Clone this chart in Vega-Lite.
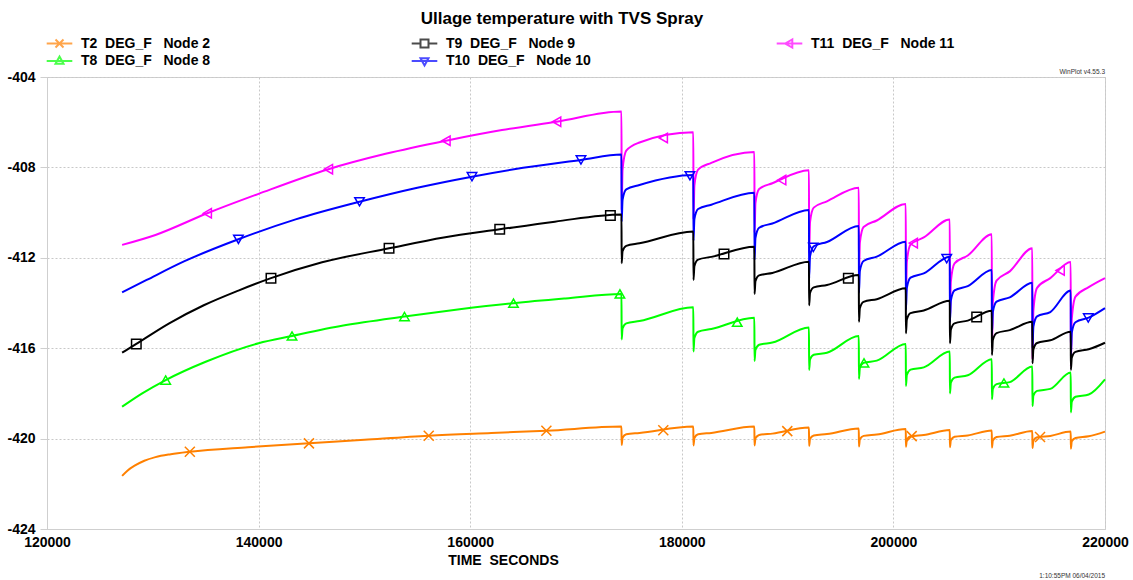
{
  "$schema": "https://vega.github.io/schema/vega-lite/v6.json",
  "width": 1058,
  "height": 452,
  "autosize": {"type": "none"},
  "padding": {"left": 47, "top": 77, "right": 28, "bottom": 51},
  "background": "white",
  "title": {"text": "Ullage temperature with TVS Spray", "font": "Liberation Sans", "fontSize": 17, "fontWeight": "bold", "color": "#000000", "anchor": "middle", "frame": "group", "dx": -14, "offset": 6},
  "datasets": {
    "lines": [
      {"s":"T11","t":127100,"v":-411.43},{"s":"T11","t":130250,"v":-410.99},{"s":"T11","t":135150,"v":-410.03},{"s":"T11","t":140000,"v":-409.17},{"s":"T11","t":146600,"v":-408.08},{"s":"T11","t":152000,"v":-407.4},{"s":"T11","t":157710,"v":-406.82},{"s":"T11","t":163000,"v":-406.35},{"s":"T11","t":168170,"v":-405.98},{"s":"T11","t":174300,"v":-405.53},
      {"s":"T11","t":174315,"v":-409.9},{"s":"T11","t":174400,"v":-408.1},{"s":"T11","t":174750,"v":-407.26},{"s":"T11","t":176000,"v":-406.9},
      {"s":"T11","t":181090,"v":-406.45},{"s":"T11","t":181105,"v":-410.3},{"s":"T11","t":181190,"v":-408.8},{"s":"T11","t":181540,"v":-408.1},{"s":"T11","t":182790,"v":-407.8},
      {"s":"T11","t":186860,"v":-407.32},{"s":"T11","t":186875,"v":-410.9},{"s":"T11","t":186960,"v":-409.58},{"s":"T11","t":187310,"v":-408.96},{"s":"T11","t":188560,"v":-408.7},
      {"s":"T11","t":192020,"v":-408.13},{"s":"T11","t":192035,"v":-411.8},{"s":"T11","t":192120,"v":-410.42},{"s":"T11","t":192470,"v":-409.78},{"s":"T11","t":193720,"v":-409.5},
      {"s":"T11","t":196730,"v":-408.9},{"s":"T11","t":196745,"v":-412.8},{"s":"T11","t":196830,"v":-411.33},{"s":"T11","t":197180,"v":-410.64},{"s":"T11","t":198430,"v":-410.35},
      {"s":"T11","t":201170,"v":-409.62},{"s":"T11","t":201185,"v":-413.8},{"s":"T11","t":201270,"v":-412.18},{"s":"T11","t":201620,"v":-411.42},{"s":"T11","t":202870,"v":-411.1},
      {"s":"T11","t":205330,"v":-410.3},{"s":"T11","t":205345,"v":-414.8},{"s":"T11","t":205430,"v":-413.06},{"s":"T11","t":205780,"v":-412.25},{"s":"T11","t":207030,"v":-411.9},
      {"s":"T11","t":209300,"v":-410.96},{"s":"T11","t":209315,"v":-416.0},{"s":"T11","t":209400,"v":-413.96},{"s":"T11","t":209750,"v":-413.01},{"s":"T11","t":211000,"v":-412.6},
      {"s":"T11","t":213130,"v":-411.58},{"s":"T11","t":213145,"v":-416.5},{"s":"T11","t":213230,"v":-414.34},{"s":"T11","t":213580,"v":-413.33},{"s":"T11","t":214830,"v":-412.9},
      {"s":"T11","t":216760,"v":-412.19},{"s":"T11","t":216775,"v":-416.8},{"s":"T11","t":216860,"v":-414.7},{"s":"T11","t":217210,"v":-413.72},{"s":"T11","t":218460,"v":-413.3},
      {"s":"T11","t":220000,"v":-412.9},

      {"s":"T10","t":127100,"v":-413.53},{"s":"T10","t":129420,"v":-412.98},{"s":"T10","t":133000,"v":-412.15},{"s":"T10","t":138090,"v":-411.18},{"s":"T10","t":143500,"v":-410.3},{"s":"T10","t":149540,"v":-409.52},{"s":"T10","t":155000,"v":-408.9},{"s":"T10","t":160170,"v":-408.41},{"s":"T10","t":165000,"v":-408.02},{"s":"T10","t":170470,"v":-407.67},{"s":"T10","t":174300,"v":-407.43},
      {"s":"T10","t":174315,"v":-410.4},{"s":"T10","t":174400,"v":-409.43},{"s":"T10","t":174750,"v":-408.97},{"s":"T10","t":176000,"v":-408.78},
      {"s":"T10","t":181090,"v":-408.34},{"s":"T10","t":181105,"v":-411.25},{"s":"T10","t":181190,"v":-410.29},{"s":"T10","t":181540,"v":-409.84},{"s":"T10","t":182790,"v":-409.65},
      {"s":"T10","t":186860,"v":-409.12},{"s":"T10","t":186875,"v":-412.1},{"s":"T10","t":186960,"v":-411.13},{"s":"T10","t":187310,"v":-410.67},{"s":"T10","t":188560,"v":-410.48},
      {"s":"T10","t":192020,"v":-409.88},{"s":"T10","t":192035,"v":-412.9},{"s":"T10","t":192120,"v":-411.94},{"s":"T10","t":192470,"v":-411.49},{"s":"T10","t":193720,"v":-411.3},
      {"s":"T10","t":196730,"v":-410.59},{"s":"T10","t":196745,"v":-413.55},{"s":"T10","t":196830,"v":-412.59},{"s":"T10","t":197180,"v":-412.14},{"s":"T10","t":198430,"v":-411.95},
      {"s":"T10","t":201170,"v":-411.29},{"s":"T10","t":201185,"v":-414.3},{"s":"T10","t":201270,"v":-413.33},{"s":"T10","t":201620,"v":-412.88},{"s":"T10","t":202870,"v":-412.69},
      {"s":"T10","t":205330,"v":-411.95},{"s":"T10","t":205345,"v":-414.85},{"s":"T10","t":205430,"v":-413.89},{"s":"T10","t":205780,"v":-413.44},{"s":"T10","t":207030,"v":-413.25},
      {"s":"T10","t":209300,"v":-412.54},{"s":"T10","t":209315,"v":-415.35},{"s":"T10","t":209400,"v":-414.39},{"s":"T10","t":209750,"v":-413.94},{"s":"T10","t":211000,"v":-413.75},
      {"s":"T10","t":213130,"v":-413.1},{"s":"T10","t":213145,"v":-416.0},{"s":"T10","t":213230,"v":-415.04},{"s":"T10","t":213580,"v":-414.59},{"s":"T10","t":214830,"v":-414.4},
      {"s":"T10","t":216760,"v":-413.45},{"s":"T10","t":216775,"v":-416.3},{"s":"T10","t":216860,"v":-415.31},{"s":"T10","t":217210,"v":-414.85},{"s":"T10","t":218460,"v":-414.65},
      {"s":"T10","t":220000,"v":-414.23},

      {"s":"T9","t":127100,"v":-416.2},{"s":"T9","t":128440,"v":-415.81},{"s":"T9","t":131550,"v":-414.9},{"s":"T9","t":134820,"v":-414.1},{"s":"T9","t":138090,"v":-413.45},{"s":"T9","t":141170,"v":-412.9},{"s":"T9","t":146000,"v":-412.2},{"s":"T9","t":152330,"v":-411.58},{"s":"T9","t":157500,"v":-411.1},{"s":"T9","t":162790,"v":-410.74},{"s":"T9","t":168000,"v":-410.4},{"s":"T9","t":174300,"v":-410.08},
      {"s":"T9","t":174315,"v":-412.24},{"s":"T9","t":174400,"v":-411.71},{"s":"T9","t":174750,"v":-411.47},{"s":"T9","t":176000,"v":-411.36},
      {"s":"T9","t":181090,"v":-410.84},{"s":"T9","t":181105,"v":-412.98},{"s":"T9","t":181190,"v":-412.37},{"s":"T9","t":181540,"v":-412.08},{"s":"T9","t":182790,"v":-411.96},
      {"s":"T9","t":186860,"v":-411.51},{"s":"T9","t":186875,"v":-413.6},{"s":"T9","t":186960,"v":-413.04},{"s":"T9","t":187310,"v":-412.78},{"s":"T9","t":188560,"v":-412.67},
      {"s":"T9","t":192020,"v":-412.17},{"s":"T9","t":192035,"v":-414.1},{"s":"T9","t":192120,"v":-413.56},{"s":"T9","t":192470,"v":-413.31},{"s":"T9","t":193720,"v":-413.2},
      {"s":"T9","t":196730,"v":-412.76},{"s":"T9","t":196745,"v":-414.83},{"s":"T9","t":196830,"v":-414.23},{"s":"T9","t":197180,"v":-413.95},{"s":"T9","t":198430,"v":-413.83},
      {"s":"T9","t":201170,"v":-413.35},{"s":"T9","t":201185,"v":-415.34},{"s":"T9","t":201270,"v":-414.73},{"s":"T9","t":201620,"v":-414.45},{"s":"T9","t":202870,"v":-414.33},
      {"s":"T9","t":205330,"v":-413.9},{"s":"T9","t":205345,"v":-415.78},{"s":"T9","t":205430,"v":-415.18},{"s":"T9","t":205780,"v":-414.9},{"s":"T9","t":207030,"v":-414.78},
      {"s":"T9","t":209300,"v":-414.34},{"s":"T9","t":209315,"v":-416.3},{"s":"T9","t":209400,"v":-415.64},{"s":"T9","t":209750,"v":-415.33},{"s":"T9","t":211000,"v":-415.2},
      {"s":"T9","t":213130,"v":-414.83},{"s":"T9","t":213145,"v":-416.67},{"s":"T9","t":213230,"v":-416.06},{"s":"T9","t":213580,"v":-415.77},{"s":"T9","t":214830,"v":-415.65},
      {"s":"T9","t":216760,"v":-415.27},{"s":"T9","t":216775,"v":-416.96},{"s":"T9","t":216860,"v":-416.42},{"s":"T9","t":217210,"v":-416.16},{"s":"T9","t":218460,"v":-416.05},
      {"s":"T9","t":220000,"v":-415.76},

      {"s":"T8","t":127100,"v":-418.59},{"s":"T8","t":129000,"v":-418.0},{"s":"T8","t":131220,"v":-417.41},{"s":"T8","t":135000,"v":-416.6},{"s":"T8","t":140000,"v":-415.78},{"s":"T8","t":143160,"v":-415.46},{"s":"T8","t":148000,"v":-415.0},{"s":"T8","t":153790,"v":-414.6},{"s":"T8","t":159000,"v":-414.28},{"s":"T8","t":164090,"v":-414.01},{"s":"T8","t":169000,"v":-413.8},{"s":"T8","t":174300,"v":-413.6},
      {"s":"T8","t":174315,"v":-415.61},{"s":"T8","t":174400,"v":-415.12},{"s":"T8","t":174750,"v":-414.9},{"s":"T8","t":176000,"v":-414.8},
      {"s":"T8","t":181090,"v":-414.19},{"s":"T8","t":181105,"v":-416.15},{"s":"T8","t":181190,"v":-415.55},{"s":"T8","t":181540,"v":-415.27},{"s":"T8","t":182790,"v":-415.15},
      {"s":"T8","t":186860,"v":-414.65},{"s":"T8","t":186875,"v":-416.57},{"s":"T8","t":186960,"v":-416.08},{"s":"T8","t":187310,"v":-415.85},{"s":"T8","t":188560,"v":-415.75},
      {"s":"T8","t":192020,"v":-415.08},{"s":"T8","t":192035,"v":-416.96},{"s":"T8","t":192120,"v":-416.5},{"s":"T8","t":192470,"v":-416.29},{"s":"T8","t":193720,"v":-416.2},
      {"s":"T8","t":196730,"v":-415.46},{"s":"T8","t":196745,"v":-417.36},{"s":"T8","t":196830,"v":-416.87},{"s":"T8","t":197180,"v":-416.65},{"s":"T8","t":198430,"v":-416.55},
      {"s":"T8","t":201170,"v":-415.81},{"s":"T8","t":201185,"v":-417.67},{"s":"T8","t":201270,"v":-417.18},{"s":"T8","t":201620,"v":-416.95},{"s":"T8","t":202870,"v":-416.85},
      {"s":"T8","t":205330,"v":-416.15},{"s":"T8","t":205345,"v":-418.0},{"s":"T8","t":205430,"v":-417.52},{"s":"T8","t":205780,"v":-417.3},{"s":"T8","t":207030,"v":-417.2},
      {"s":"T8","t":209300,"v":-416.49},{"s":"T8","t":209315,"v":-418.26},{"s":"T8","t":209400,"v":-417.8},{"s":"T8","t":209750,"v":-417.59},{"s":"T8","t":211000,"v":-417.5},
      {"s":"T8","t":213130,"v":-416.81},{"s":"T8","t":213145,"v":-418.56},{"s":"T8","t":213230,"v":-418.1},{"s":"T8","t":213580,"v":-417.89},{"s":"T8","t":214830,"v":-417.8},
      {"s":"T8","t":216760,"v":-417.08},{"s":"T8","t":216775,"v":-418.84},{"s":"T8","t":216860,"v":-418.37},{"s":"T8","t":217210,"v":-418.15},{"s":"T8","t":218460,"v":-418.05},
      {"s":"T8","t":220000,"v":-417.38},

      {"s":"T2","t":127100,"v":-421.65},{"s":"T2","t":127600,"v":-421.42},{"s":"T2","t":128280,"v":-421.2},{"s":"T2","t":129200,"v":-420.98},{"s":"T2","t":130250,"v":-420.82},{"s":"T2","t":131700,"v":-420.69},{"s":"T2","t":133500,"v":-420.58},{"s":"T2","t":139000,"v":-420.38},{"s":"T2","t":144760,"v":-420.21},{"s":"T2","t":150000,"v":-420.05},{"s":"T2","t":156080,"v":-419.87},{"s":"T2","t":162000,"v":-419.75},{"s":"T2","t":167200,"v":-419.65},{"s":"T2","t":174300,"v":-419.47},
      {"s":"T2","t":174315,"v":-420.28},{"s":"T2","t":174400,"v":-419.96},{"s":"T2","t":174750,"v":-419.81},{"s":"T2","t":176000,"v":-419.75},
      {"s":"T2","t":181090,"v":-419.47},{"s":"T2","t":181105,"v":-420.3},{"s":"T2","t":181190,"v":-419.97},{"s":"T2","t":181540,"v":-419.81},{"s":"T2","t":182790,"v":-419.75},
      {"s":"T2","t":186860,"v":-419.47},{"s":"T2","t":186875,"v":-420.3},{"s":"T2","t":186960,"v":-419.99},{"s":"T2","t":187310,"v":-419.84},{"s":"T2","t":188560,"v":-419.78},
      {"s":"T2","t":192020,"v":-419.51},{"s":"T2","t":192035,"v":-420.32},{"s":"T2","t":192120,"v":-420.01},{"s":"T2","t":192470,"v":-419.86},{"s":"T2","t":193720,"v":-419.8},
      {"s":"T2","t":196730,"v":-419.55},{"s":"T2","t":196745,"v":-420.35},{"s":"T2","t":196830,"v":-420.03},{"s":"T2","t":197180,"v":-419.88},{"s":"T2","t":198430,"v":-419.82},
      {"s":"T2","t":201170,"v":-419.58},{"s":"T2","t":201185,"v":-420.36},{"s":"T2","t":201270,"v":-420.05},{"s":"T2","t":201620,"v":-419.9},{"s":"T2","t":202870,"v":-419.84},
      {"s":"T2","t":205330,"v":-419.62},{"s":"T2","t":205345,"v":-420.38},{"s":"T2","t":205430,"v":-420.07},{"s":"T2","t":205780,"v":-419.92},{"s":"T2","t":207030,"v":-419.86},
      {"s":"T2","t":209300,"v":-419.64},{"s":"T2","t":209315,"v":-420.4},{"s":"T2","t":209400,"v":-420.08},{"s":"T2","t":209750,"v":-419.93},{"s":"T2","t":211000,"v":-419.87},
      {"s":"T2","t":213130,"v":-419.66},{"s":"T2","t":213145,"v":-420.42},{"s":"T2","t":213230,"v":-420.1},{"s":"T2","t":213580,"v":-419.94},{"s":"T2","t":214830,"v":-419.88},
      {"s":"T2","t":216760,"v":-419.69},{"s":"T2","t":216775,"v":-420.45},{"s":"T2","t":216860,"v":-420.12},{"s":"T2","t":217210,"v":-419.97},{"s":"T2","t":218460,"v":-419.9},
      {"s":"T2","t":220000,"v":-419.69}
    ],
    "marks": [
      {"s":"T2","t":133500,"v":-420.58},{"s":"T2","t":144760,"v":-420.21},{"s":"T2","t":156080,"v":-419.87},{"s":"T2","t":167200,"v":-419.65},{"s":"T2","t":178250,"v":-419.63},{"s":"T2","t":189970,"v":-419.67},{"s":"T2","t":201730,"v":-419.89},{"s":"T2","t":213860,"v":-419.93},
      {"s":"T8","t":131220,"v":-417.41},{"s":"T8","t":143160,"v":-415.46},{"s":"T8","t":153790,"v":-414.6},{"s":"T8","t":164090,"v":-414.01},{"s":"T8","t":174150,"v":-413.6},{"s":"T8","t":185240,"v":-414.85},{"s":"T8","t":197220,"v":-416.65},{"s":"T8","t":210450,"v":-417.54},
      {"s":"T9","t":128440,"v":-415.81},{"s":"T9","t":141170,"v":-412.9},{"s":"T9","t":152330,"v":-411.58},{"s":"T9","t":162790,"v":-410.74},{"s":"T9","t":173250,"v":-410.13},{"s":"T9","t":183990,"v":-411.83},{"s":"T9","t":195740,"v":-412.9},{"s":"T9","t":207870,"v":-414.62},
      {"s":"T10","t":138090,"v":-411.18},{"s":"T10","t":149540,"v":-409.52},{"s":"T10","t":160170,"v":-408.41},{"s":"T10","t":170470,"v":-407.67},{"s":"T10","t":180770,"v":-408.37},{"s":"T10","t":192430,"v":-411.54},{"s":"T10","t":205040,"v":-412.04},{"s":"T10","t":218420,"v":-414.66},
      {"s":"T11","t":135150,"v":-410.03},{"s":"T11","t":146600,"v":-408.08},{"s":"T11","t":157710,"v":-406.82},{"s":"T11","t":168170,"v":-405.98},{"s":"T11","t":178250,"v":-406.7},{"s":"T11","t":189440,"v":-408.56},{"s":"T11","t":201880,"v":-411.35},{"s":"T11","t":215760,"v":-412.56}
    ]
  },
  "layer": [
    {
      "data": {"name": "lines"},
      "mark": {"type": "line", "strokeWidth": 2, "interpolate": "monotone"},
      "encoding": {
        "x": {"field": "t", "type": "quantitative", "scale": {"domain": [120000, 220000], "nice": false, "zero": false},
          "axis": {"values": [120000, 140000, 160000, 180000, 200000, 220000], "format": "d", "title": "TIME\u00a0\u00a0SECONDS",
            "grid": true, "gridColor": "#c8c8c8", "gridDash": [2, 2], "domainColor": "#cfcfcf", "ticks": false,
            "labelFont": "Liberation Sans", "labelFontSize": 14, "labelFontWeight": "bold", "labelColor": "#000000", "labelPadding": 6, "labelFlush": false, "labelOverlap": false,
            "titleFont": "Liberation Sans", "titleFontSize": 14, "titleFontWeight": "bold", "titleColor": "#000000", "titleX": 456, "titleY": 24}},
        "y": {"field": "v", "type": "quantitative", "scale": {"domain": [-424, -404], "nice": false, "zero": false},
          "axis": {"values": [-424, -420, -416, -412, -408, -404], "title": null, "labelExpr": "toString(datum.value)",
            "grid": true, "gridColor": "#c8c8c8", "gridDash": [2, 2], "domainColor": "#cfcfcf", "tickColor": "#cfcfcf", "tickSize": 7,
            "labelFont": "Liberation Sans", "labelFontSize": 14, "labelFontWeight": "bold", "labelColor": "#000000", "labelPadding": 5, "labelFlush": false, "labelOverlap": false}},
        "color": {"field": "s", "type": "nominal", "scale": {"domain": ["T11", "T10", "T9", "T8", "T2"], "range": ["#FF00FF", "#0000FF", "#000000", "#00FF00", "#FF8000"]}, "legend": null}
      }
    },
    {
      "data": {"name": "marks"},
      "transform": [{"filter": "datum.s == 'T11'"}],
      "mark": {"type": "point", "shape": "triangle-left", "filled": false, "color": "#FF00FF", "strokeWidth": 1.5, "size": 90, "opacity": 1},
      "encoding": {"x": {"field": "t", "type": "quantitative"}, "y": {"field": "v", "type": "quantitative"}}
    },
    {
      "data": {"name": "marks"},
      "transform": [{"filter": "datum.s == 'T10'"}],
      "mark": {"type": "point", "shape": "triangle-down", "filled": false, "color": "#0000FF", "strokeWidth": 1.5, "size": 90, "opacity": 1},
      "encoding": {"x": {"field": "t", "type": "quantitative"}, "y": {"field": "v", "type": "quantitative"}}
    },
    {
      "data": {"name": "marks"},
      "transform": [{"filter": "datum.s == 'T9'"}],
      "mark": {"type": "point", "shape": "square", "filled": false, "color": "#000000", "strokeWidth": 1.5, "size": 90, "opacity": 1},
      "encoding": {"x": {"field": "t", "type": "quantitative"}, "y": {"field": "v", "type": "quantitative"}}
    },
    {
      "data": {"name": "marks"},
      "transform": [{"filter": "datum.s == 'T8'"}],
      "mark": {"type": "point", "shape": "triangle-up", "filled": false, "color": "#00FF00", "strokeWidth": 1.5, "size": 90, "opacity": 1},
      "encoding": {"x": {"field": "t", "type": "quantitative"}, "y": {"field": "v", "type": "quantitative"}}
    },
    {
      "data": {"name": "marks"},
      "transform": [{"filter": "datum.s == 'T2'"}],
      "mark": {"type": "point", "shape": "M-1,-1L1,1M-1,1L1,-1", "filled": false, "color": "#FF8000", "strokeWidth": 1.5, "size": 100, "opacity": 1},
      "encoding": {"x": {"field": "t", "type": "quantitative"}, "y": {"field": "v", "type": "quantitative"}}
    },
    {
      "data": {"name": "marks"},
      "transform": [{"filter": "datum.t < 0"}],
      "mark": {"type": "point", "filled": false, "strokeWidth": 2},
      "encoding": {
        "x": {"field": "t", "type": "quantitative"},
        "y": {"field": "v", "type": "quantitative"},
        "stroke": {"field": "s", "type": "nominal",
          "scale": {"domain": ["T2", "T9", "T11", "T8", "T10"], "range": ["#FF8000", "#000000", "#FF00FF", "#00FF00", "#0000FF"]},
          "legend": {"orient": "none", "legendX": 3.5, "legendY": -43, "direction": "horizontal", "columns": 3, "title": null, "padding": 0,
            "gridAlign": "all", "columnPadding": 181, "rowPadding": 0, "symbolSize": 256, "symbolStrokeWidth": 2, "labelOffset": 12.5,
            "labelFont": "Liberation Sans", "labelFontSize": 14, "labelFontWeight": "bold", "labelColor": "#000000", "labelLimit": 300,
            "labelExpr": "datum.label == 'T2' ? 'T2\u00a0\u00a0DEG_F\u00a0\u00a0\u00a0Node 2' : datum.label == 'T8' ? 'T8\u00a0\u00a0DEG_F\u00a0\u00a0\u00a0Node 8' : datum.label == 'T9' ? 'T9\u00a0\u00a0DEG_F\u00a0\u00a0\u00a0Node 9' : datum.label == 'T10' ? 'T10\u00a0\u00a0DEG_F\u00a0\u00a0\u00a0Node 10' : 'T11\u00a0\u00a0DEG_F\u00a0\u00a0\u00a0Node 11'"}},
        "shape": {"field": "s", "type": "nominal",
          "scale": {"domain": ["T2", "T9", "T11", "T8", "T10"], "range": [
            "M-1.6,0H1.6M-0.5,-0.5L0.5,0.5M-0.5,0.5L0.5,-0.5",
            "M-1.6,0H-0.5M0.5,0H1.6M-0.5,-0.5H0.5V0.5H-0.5Z",
            "M-1.6,0H1.6M-0.55,0L0.35,-0.5V0.5Z",
            "M-1.6,0H1.6M0,-0.55L0.5,0.35H-0.5Z",
            "M-1.6,0H1.6M0,0.55L0.5,-0.35H-0.5Z"]},
          "legend": {"orient": "none", "legendX": 3.5, "legendY": -43, "direction": "horizontal", "columns": 3, "title": null, "padding": 0,
            "gridAlign": "all", "columnPadding": 181, "rowPadding": 0, "symbolSize": 256, "symbolStrokeWidth": 2, "labelOffset": 12.5,
            "labelFont": "Liberation Sans", "labelFontSize": 14, "labelFontWeight": "bold", "labelColor": "#000000", "labelLimit": 300,
            "labelExpr": "datum.label == 'T2' ? 'T2\u00a0\u00a0DEG_F\u00a0\u00a0\u00a0Node 2' : datum.label == 'T8' ? 'T8\u00a0\u00a0DEG_F\u00a0\u00a0\u00a0Node 8' : datum.label == 'T9' ? 'T9\u00a0\u00a0DEG_F\u00a0\u00a0\u00a0Node 9' : datum.label == 'T10' ? 'T10\u00a0\u00a0DEG_F\u00a0\u00a0\u00a0Node 10' : 'T11\u00a0\u00a0DEG_F\u00a0\u00a0\u00a0Node 11'"}}
      }
    },
    {
      "data": {"values": [{"label": "WinPlot v4.55.3"}]},
      "mark": {"type": "text", "align": "right", "baseline": "bottom", "dy": -2, "font": "Liberation Sans", "fontSize": 6.5, "color": "#333333"},
      "encoding": {"x": {"datum": 220000, "type": "quantitative"}, "y": {"datum": -404, "type": "quantitative"}, "text": {"field": "label"}}
    },
    {
      "data": {"values": [{"label": "1:10:55PM 06/04/2015"}]},
      "mark": {"type": "text", "align": "right", "baseline": "middle", "dy": 47, "font": "Liberation Sans", "fontSize": 6.5, "color": "#333333"},
      "encoding": {"x": {"datum": 220000, "type": "quantitative"}, "y": {"datum": -424, "type": "quantitative"}, "text": {"field": "label"}}
    }
  ],
  "config": {
    "view": {"stroke": "#cfcfcf", "strokeWidth": 1},
    "font": "Liberation Sans"
  }
}
